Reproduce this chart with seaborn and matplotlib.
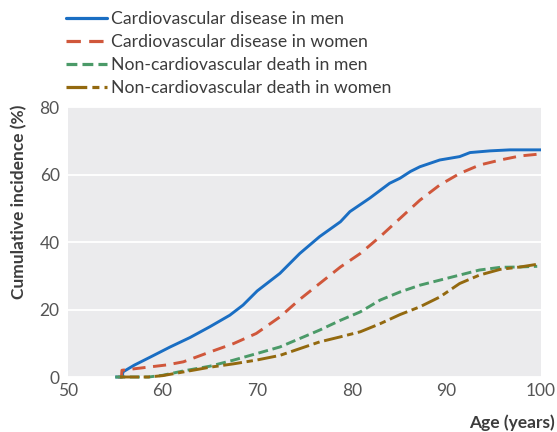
import numpy as np
import pandas as pd
import matplotlib
matplotlib.use("Agg")
import matplotlib.pyplot as plt
import seaborn as sns

# ---- data ----
series_names = [
    "Cardiovascular disease in men",
    "Cardiovascular disease in women",
    "Non-cardiovascular death in men",
    "Non-cardiovascular death in women",
]

cvd_men_age = [55.0, 55.75, 55.8, 57.0, 58.7, 60.8, 62.9, 65.0, 67.1, 68.5, 70.0,
               72.4, 74.5, 76.6, 78.8, 79.8, 81.9, 84.0, 85.1, 86.2, 87.2, 89.3,
               91.4, 92.5, 94.6, 96.7, 100.0]
cvd_men_val = [0.0, 0.0, 1.5, 3.5, 5.9, 8.9, 11.7, 14.9, 18.3, 21.3, 25.5,
               30.7, 36.6, 41.6, 46.0, 49.0, 53.0, 57.4, 58.9, 60.9, 62.3, 64.3,
               65.3, 66.5, 67.0, 67.3, 67.3]

cvd_women_age = [55.3, 55.65, 55.7, 58.7, 60.5, 62.2, 65.0, 67.5, 69.9, 72.4, 74.5,
                 76.6, 78.8, 80.9, 83.0, 85.1, 87.2, 89.3, 91.4, 93.5, 95.7, 97.8, 100.0]
cvd_women_val = [0.0, 0.0, 2.0, 3.0, 3.6, 4.5, 7.4, 9.9, 12.9, 17.8, 23.0,
                 27.7, 32.6, 36.6, 41.6, 47.0, 52.4, 56.9, 60.3, 62.8, 64.3, 65.5, 66.1]

noncvd_men_age = [55.0, 58.5, 60.0, 62.2, 65.0, 67.5, 69.9, 72.4, 74.5, 76.6, 78.8,
                  80.9, 83.0, 85.1, 87.2, 89.3, 91.4, 93.5, 95.7, 97.8, 99.6]
noncvd_men_val = [0.0, 0.0, 0.5, 1.8, 3.2, 5.0, 6.9, 8.9, 11.4, 13.9, 16.8,
                  19.3, 22.8, 25.2, 27.2, 28.7, 30.2, 31.7, 32.5, 32.6, 32.8]

noncvd_women_age = [55.5, 58.5, 60.0, 62.2, 65.0, 67.5, 69.9, 72.4, 74.5, 76.6, 78.8,
                    80.9, 83.0, 85.1, 87.2, 89.3, 91.4, 93.5, 95.7, 97.8, 99.6]
noncvd_women_val = [0.0, 0.0, 0.4, 1.5, 2.9, 3.9, 5.0, 6.4, 8.4, 10.4, 11.9,
                    13.4, 15.8, 18.5, 20.8, 23.7, 27.7, 30.2, 31.9, 32.6, 33.4]

x_ticks = [50, 60, 70, 80, 90, 100]
y_ticks = [0, 20, 40, 60, 80]

colors = ["#1a6ec3", "#d0573b", "#4b9a68", "#93690f"]
dash_styles = [
    "",
    (4.5, 2.6),
    (3.4, 1.6),
    (6.5, 1.6, 2.2, 1.6),
]

# ---- build long-form table ----
frames = []
for name, a, v in zip(series_names,
                      [cvd_men_age, cvd_women_age, noncvd_men_age, noncvd_women_age],
                      [cvd_men_val, cvd_women_val, noncvd_men_val, noncvd_women_val]):
    frames.append(pd.DataFrame({"Age": a, "Incidence": v, "Series": name}))
df = pd.concat(frames, ignore_index=True)

sns.set_theme(style="darkgrid")
plt.rcParams["font.family"] = ["Lato", "DejaVu Sans"]
plt.rcParams["axes.facecolor"] = "#ebebed"

fig = plt.figure(figsize=(5.57, 4.32), dpi=100)
ax = fig.add_axes([68 / 557, 1 - 377 / 432, (541 - 68) / 557, (377 - 107) / 432])

sns.lineplot(data=df, x="Age", y="Incidence", hue="Series", style="Series",
             hue_order=series_names, style_order=series_names,
             palette=dict(zip(series_names, colors)),
             dashes=dict(zip(series_names, dash_styles)),
             linewidth=2.1, ax=ax, legend=False, estimator=None, sort=False)
for ln in ax.lines:
    ln.set_clip_on(False)
    ln.set_solid_capstyle("butt")
    ln.set_dash_capstyle("butt")

ax.set_xlim(50, 100)
ax.set_ylim(0, 80)
ax.set_xticks(x_ticks)
ax.set_yticks(y_ticks)
ax.grid(False, axis="x")
ax.grid(True, axis="y", color="white", linewidth=1.3)
ax.set_xlabel("")
ax.set_ylabel("")
ax.tick_params(axis="x", direction="in", length=5, width=1.3, color="white",
               labelsize=12.5, labelcolor="#555555", pad=4)
ax.tick_params(axis="y", length=0, labelsize=12.5, labelcolor="#555555", pad=6)
for s in ax.spines.values():
    s.set_visible(False)

# legend
from matplotlib.lines import Line2D
handles = [Line2D([0], [0], color=c, lw=2.3,
                  linestyle="-" if d == "" else (0, d), dash_capstyle="butt")
           for c, d in zip(colors, dash_styles)]
leg = fig.legend(handles, series_names, loc="upper left",
                 bbox_to_anchor=(66 / 557, 1 - 11 / 432), frameon=False,
                 fontsize=12.7, handlelength=2.35, handletextpad=0.22,
                 labelspacing=0.40, borderaxespad=0, borderpad=0)
for t in leg.get_texts():
    t.set_color("#3c3c3c")

fig.text(19 / 557, 1 - 202 / 432, "Cumulative incidence (%)", rotation=90,
         ha="center", va="center", fontsize=12.5, fontweight="bold", color="#3c3c3c")
fig.text(555 / 557, 9 / 432, "Age (years)", ha="right", va="center",
         fontsize=12.5, fontweight="bold", color="#3c3c3c")

fig.savefig("out.png", dpi=100)
